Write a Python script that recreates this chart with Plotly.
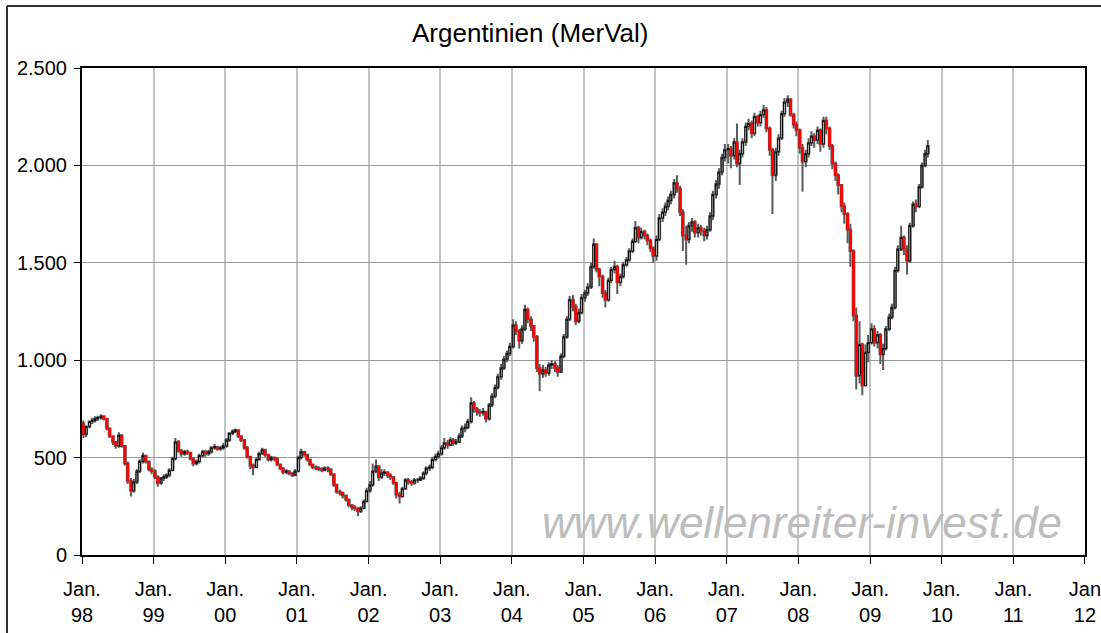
import pandas as pd
import plotly.graph_objects as go

# semi-monthly closing values (index points), Jan 1998 - Oct 2009
close_1998 = [620, 660, 685, 690, 700, 705, 712, 700, 650, 610, 580, 560, 615, 560, 470, 380, 330, 375, 430, 480, 510, 480, 440, 430]
close_1999 = [400, 370, 395, 400, 410, 435, 495, 580, 535, 520, 530, 525, 495, 470, 480, 510, 530, 520, 530, 550, 555, 545, 550, 560]
close_2000 = [590, 625, 635, 640, 610, 590, 550, 505, 460, 450, 490, 520, 540, 515, 490, 500, 495, 465, 445, 425, 430, 420, 410, 430]
close_2001 = [500, 530, 515, 490, 465, 450, 445, 440, 435, 445, 440, 415, 360, 325, 320, 305, 285, 255, 245, 240, 225, 240, 275, 330]
close_2002 = [360, 430, 455, 400, 420, 425, 410, 400, 370, 310, 300, 340, 385, 375, 370, 385, 385, 395, 420, 445, 450, 490, 505, 520]
close_2003 = [550, 575, 565, 590, 575, 580, 610, 650, 655, 685, 780, 750, 735, 730, 735, 700, 770, 815, 860, 915, 960, 1005, 1035, 1070]
close_2004 = [1180, 1150, 1100, 1160, 1260, 1210, 1175, 1120, 960, 930, 950, 935, 975, 980, 960, 940, 1020, 1120, 1210, 1310, 1275, 1200, 1245, 1320]
close_2005 = [1345, 1375, 1480, 1595, 1465, 1430, 1345, 1310, 1410, 1465, 1480, 1400, 1430, 1490, 1515, 1560, 1610, 1680, 1630, 1660, 1640, 1615, 1575, 1535]
close_2006 = [1620, 1730, 1760, 1790, 1820, 1850, 1910, 1880, 1760, 1640, 1620, 1690, 1710, 1655, 1680, 1665, 1640, 1670, 1740, 1850, 1905, 1965, 2040, 2080]
close_2007 = [2085, 2050, 2120, 2010, 2060, 2120, 2200, 2215, 2165, 2250, 2220, 2260, 2285, 2190, 2080, 1950, 2070, 2140, 2265, 2325, 2340, 2260, 2210, 2180]
close_2008 = [2090, 2020, 2060, 2115, 2150, 2130, 2180, 2110, 2230, 2190, 2100, 2010, 1950, 1900, 1790, 1750, 1670, 1560, 1230, 920, 1080, 870, 1040, 1090]
close_2009 = [1160, 1090, 1130, 1030, 1060, 1160, 1220, 1270, 1460, 1570, 1630, 1570, 1510, 1690, 1800, 1790, 1890, 2000, 2060, 2100]

high_1998 = [690, 665, 690, 705, 712, 715, 722, 718, 705, 655, 615, 585, 630, 620, 565, 480, 395, 390, 440, 492, 525, 515, 485, 450]
high_1999 = [440, 410, 400, 415, 420, 445, 505, 600, 590, 545, 540, 540, 530, 500, 490, 520, 540, 540, 540, 560, 570, 560, 560, 575]
high_2000 = [600, 630, 645, 650, 645, 615, 595, 560, 510, 470, 500, 530, 550, 545, 520, 510, 505, 500, 470, 450, 440, 435, 425, 440]
high_2001 = [510, 545, 535, 520, 495, 470, 460, 455, 450, 455, 455, 445, 420, 365, 335, 325, 310, 290, 262, 255, 245, 250, 285, 345]
high_2002 = [380, 470, 490, 460, 440, 440, 430, 420, 405, 375, 325, 350, 395, 395, 385, 395, 395, 405, 430, 455, 465, 505, 520, 535]
high_2003 = [565, 600, 590, 605, 600, 595, 625, 665, 675, 700, 810, 790, 760, 750, 755, 740, 780, 830, 875, 930, 980, 1020, 1050, 1090]
high_2004 = [1210, 1200, 1160, 1180, 1285, 1270, 1225, 1180, 1130, 980, 975, 965, 990, 1000, 995, 975, 1035, 1135, 1225, 1330, 1335, 1290, 1265, 1340]
high_2005 = [1360, 1395, 1500, 1625, 1600, 1475, 1440, 1360, 1425, 1480, 1510, 1490, 1445, 1505, 1530, 1575, 1625, 1715, 1690, 1680, 1670, 1650, 1625, 1585]
high_2006 = [1640, 1750, 1780, 1810, 1840, 1870, 1930, 1950, 1895, 1775, 1690, 1710, 1730, 1720, 1700, 1695, 1680, 1690, 1760, 1870, 1925, 1985, 2060, 2110]
high_2007 = [2110, 2100, 2140, 2215, 2080, 2140, 2220, 2240, 2230, 2270, 2260, 2280, 2310, 2300, 2200, 2090, 2090, 2160, 2280, 2345, 2360, 2345, 2270, 2225]
high_2008 = [2190, 2110, 2080, 2140, 2175, 2165, 2200, 2190, 2250, 2250, 2200, 2110, 2020, 1960, 1905, 1810, 1760, 1700, 1570, 1270, 1200, 1090, 1080, 1130]
high_2009 = [1190, 1180, 1150, 1140, 1085, 1175, 1240, 1290, 1480, 1590, 1690, 1640, 1590, 1705, 1815, 1825, 1905, 2015, 2080, 2130]

low_1998 = [600, 605, 650, 672, 680, 688, 695, 690, 640, 600, 565, 545, 550, 550, 460, 365, 300, 320, 365, 420, 470, 470, 430, 415]
low_1999 = [390, 350, 360, 380, 390, 400, 430, 485, 525, 505, 510, 515, 485, 455, 460, 470, 500, 505, 510, 520, 540, 535, 535, 540]
low_2000 = [550, 580, 615, 625, 600, 580, 540, 495, 440, 410, 445, 485, 515, 505, 480, 480, 480, 455, 435, 415, 415, 410, 400, 405]
low_2001 = [425, 490, 505, 480, 455, 440, 435, 430, 425, 430, 425, 405, 350, 315, 305, 290, 275, 245, 230, 225, 200, 215, 235, 270]
low_2002 = [320, 350, 420, 380, 390, 405, 395, 385, 360, 290, 265, 295, 335, 360, 355, 360, 370, 380, 385, 410, 430, 440, 480, 495]
low_2003 = [510, 540, 545, 560, 560, 565, 575, 600, 630, 645, 675, 730, 715, 710, 715, 680, 690, 760, 805, 850, 900, 950, 990, 1020]
low_2004 = [1060, 1130, 1060, 1085, 1150, 1190, 1150, 1095, 940, 840, 910, 915, 920, 955, 940, 915, 935, 1010, 1110, 1200, 1250, 1180, 1190, 1235]
low_2005 = [1300, 1330, 1365, 1470, 1450, 1380, 1320, 1270, 1300, 1395, 1445, 1340, 1380, 1420, 1480, 1505, 1550, 1600, 1600, 1620, 1620, 1590, 1555, 1500]
low_2006 = [1510, 1610, 1710, 1740, 1770, 1800, 1830, 1860, 1740, 1560, 1490, 1600, 1660, 1630, 1630, 1640, 1610, 1620, 1660, 1720, 1830, 1880, 1950, 2020]
low_2007 = [2010, 1985, 2030, 1990, 1900, 2040, 2100, 2180, 2140, 2150, 2200, 2200, 2245, 2170, 2050, 1750, 1920, 2050, 2130, 2250, 2300, 2250, 2190, 2150]
low_2008 = [2060, 1865, 1990, 2040, 2100, 2090, 2110, 2070, 2090, 2160, 2080, 1980, 1920, 1850, 1760, 1700, 1600, 1480, 1200, 850, 880, 820, 870, 990]
low_2009 = [1080, 1070, 1060, 980, 950, 1050, 1150, 1210, 1260, 1450, 1560, 1540, 1440, 1500, 1680, 1760, 1780, 1880, 1990, 2040]

first_open = 675

year_ticks = ["1998", "1999", "2000", "2001", "2002", "2003", "2004",
              "2005", "2006", "2007", "2008", "2009", "2010", "2011", "2012"]
tick_labels = ["Jan.<br>98", "Jan.<br>99", "Jan.<br>00", "Jan.<br>01", "Jan.<br>02",
               "Jan.<br>03", "Jan.<br>04", "Jan.<br>05", "Jan.<br>06", "Jan.<br>07",
               "Jan.<br>08", "Jan.<br>09", "Jan.<br>10", "Jan.<br>11", "Jan<br>12"]

closes = (close_1998 + close_1999 + close_2000 + close_2001 + close_2002 + close_2003 +
          close_2004 + close_2005 + close_2006 + close_2007 + close_2008 + close_2009)
highs = (high_1998 + high_1999 + high_2000 + high_2001 + high_2002 + high_2003 +
         high_2004 + high_2005 + high_2006 + high_2007 + high_2008 + high_2009)
lows = (low_1998 + low_1999 + low_2000 + low_2001 + low_2002 + low_2003 +
        low_2004 + low_2005 + low_2006 + low_2007 + low_2008 + low_2009)
opens = [first_open] + closes[:-1]

dates = pd.date_range("1998-01-01", periods=len(closes), freq="SMS") + pd.Timedelta(days=7)

body_hi = [max(o, c) for o, c in zip(opens, closes)]
body_lo = [min(o, c) for o, c in zip(opens, closes)]

fig = go.Figure()
# wicks
fig.add_trace(go.Candlestick(
    x=dates, open=opens, high=highs, low=lows, close=closes,
    increasing=dict(line=dict(color="#5a5a5a", width=2), fillcolor="#5a5a5a"),
    decreasing=dict(line=dict(color="#5a5a5a", width=2), fillcolor="#5a5a5a"),
    hoverinfo="skip", showlegend=False))
# bodies
fig.add_trace(go.Candlestick(
    x=dates, open=opens, high=body_hi, low=body_lo, close=closes,
    increasing=dict(line=dict(color="#000000", width=1), fillcolor="#ffffff"),
    decreasing=dict(line=dict(color="#ff0000", width=1), fillcolor="#ff0000"),
    hoverinfo="skip", showlegend=False))

L, R, T, B = 82, 16, 68, 78
pw, ph = 1101 - L - R, 633 - T - B

fig.update_layout(
    width=1101, height=633,
    margin=dict(l=L, r=R, t=T, b=B, autoexpand=False),
    paper_bgcolor="white", plot_bgcolor="white",
    separators=",.",
    boxgap=0.15,
    hovermode=False,
    font=dict(family="Liberation Sans, Arial, sans-serif", size=20, color="black"),
    xaxis=dict(
        type="date", range=["1998-01-01", "2012-01-01 06:00"],
        tickmode="array", tickvals=year_ticks, ticktext=tick_labels,
        showgrid=True, gridcolor="#c4c4c4", gridwidth=2,
        showline=True, linecolor="black", linewidth=2, mirror=True,
        ticks="outside", ticklen=7, tickcolor="black", tickwidth=1,
        ticklabelstandoff=8, automargin=False, ticklabeloverflow="allow",
        rangeslider=dict(visible=False), tickfont=dict(size=20),
        zeroline=False,
    ),
    yaxis=dict(
        range=[0, 2500], tickvals=[0, 500, 1000, 1500, 2000, 2500], tickformat=",d",
        showgrid=True, gridcolor="#9a9a9a", gridwidth=1,
        showline=True, linecolor="black", linewidth=2, mirror=True,
        ticks="outside", ticklen=6, tickcolor="black", tickwidth=1,
        ticklabelstandoff=3, automargin=False,
        tickfont=dict(size=20), zeroline=False,
    ),
    annotations=[
        dict(text="Argentinien (MerVal)", xref="paper", yref="paper",
             x=(530 - L) / pw, y=(633 - B - 33) / ph, xanchor="center", yanchor="middle",
             showarrow=False, font=dict(size=26, color="black")),
        dict(text="<i>www.wellenreiter-invest.de</i>", xref="paper", yref="paper",
             x=(802 - L) / pw, y=(633 - B - 522) / ph, xanchor="center", yanchor="middle",
             showarrow=False, font=dict(size=44, color="#bdbdbd")),
    ],
    shapes=[
        dict(type="line", xref="paper", yref="paper",
             x0=(7 - L) / pw, x1=(7 - L) / pw, y0=(633 - B - 640) / ph, y1=(633 - B - 6) / ph,
             line=dict(color="#303030", width=2)),
        dict(type="line", xref="paper", yref="paper",
             x0=(7 - L) / pw, x1=(1110 - L) / pw, y0=(633 - B - 6) / ph, y1=(633 - B - 6) / ph,
             line=dict(color="#303030", width=2)),
    ],
)

fig.write_html("out.html", config={"displayModeBar": False},
               post_script="document.body.style.margin='0';")
